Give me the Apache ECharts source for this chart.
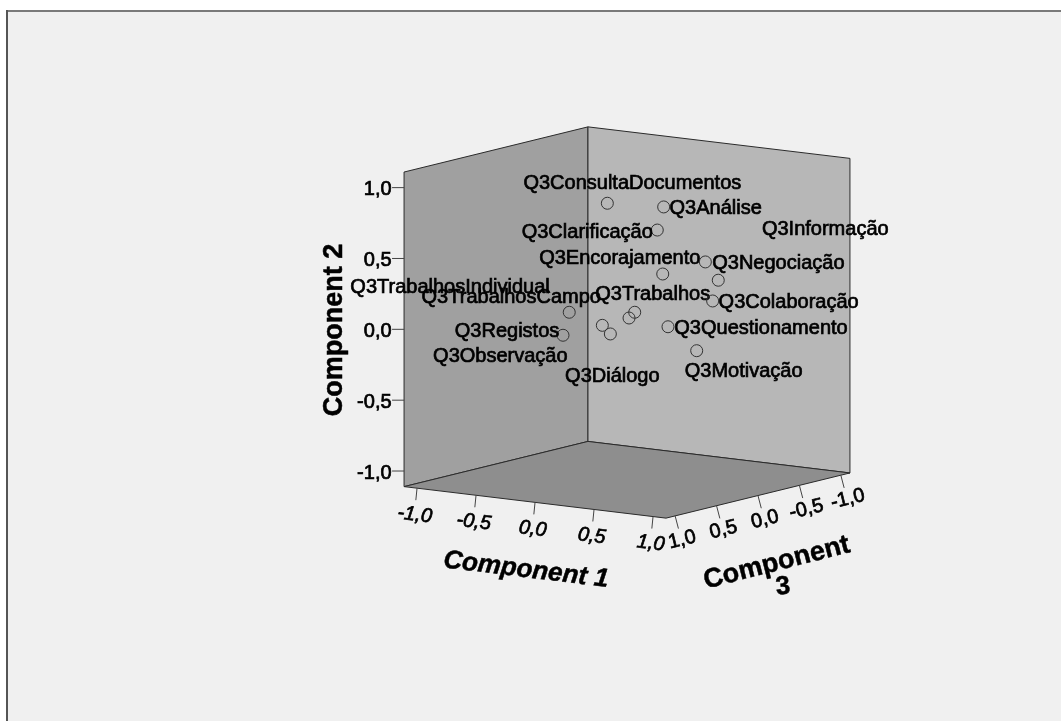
<!DOCTYPE html>
<html>
<head>
<meta charset="utf-8">
<style>
    html, body { margin: 0; padding: 0; background: #fff; }
    #chart { width: 1061px; height: 721px; }
</style>
<script src="https://cdn.jsdelivr.net/npm/echarts@6/dist/echarts.min.js"></script>
</head>
<body>
<div id="chart"></div>
<script>
// component loadings
var names = ["Q3ConsultaDocumentos", "Q3Análise", "Q3Clarificação", "Q3Informação", "Q3Encorajamento",
    "Q3Negociação", "Q3TrabalhosIndividual", "Q3TrabalhosCampo", "Q3Trabalhos", "Q3Colaboração",
    "Q3Registos", "Q3Questionamento", "Q3Observação", "Q3Motivação", "Q3Diálogo"];
var component1 = [0.044, 0.381, 0.397, 0.633, 0.373, 0.664, 0.298, 0.002, 0.276, 0.796, -0.121, 0.558, 0.142, 0.731, 0.210];
var component2 = [0.889, 0.868, 0.721, 0.333, 0.394, 0.494, 0.119, 0.173, 0.143, 0.246, -0.016, 0.069, 0.066, -0.097, 0.012];
var component3 = [0.3, 0.1, 0.2, -0.2, 0.1, 0, 0.4, 0.7, 0.3, 0.1, 0.6, 0.3, 0.5, 0.2, 0.5];
var tickValues = [-1, -0.5, 0, 0.5, 1];
var tickLabels = ["-1,0", "-0,5", "0,0", "0,5", "1,0"];

// label offset from its point, they do not sit next to the circles in the original
var labelShift = [[25, -20], [52, 2], [-70, 2], [107, -51], [-43, -16],
    [73, 2], [-179, -31], [-58, -15], [18, -18], [76, 2],
    [-56, -4], [93, 2], [-102, 31], [47, 21], [2, 43]];

// box half size on each component
var boxSize = 1.11;
var font = "Liberation Sans";

// fixed oblique view of the cube, the result is in the units of the hidden axes
function project(c1, c2, c3) {
    return [627 + 118 * c1 - 82.85 * c3, 322.5 + 14.2 * c1 - 141.7 * c2 + 20.35 * c3];
}

var walls = [
    { color: "#a0a0a0", corners: [[-1, -1, -1], [-1, 1, -1], [-1, 1, 1], [-1, -1, 1]] },
    { color: "#b7b7b7", corners: [[-1, -1, -1], [-1, 1, -1], [1, 1, -1], [1, -1, -1]] },
    { color: "#8e8e8e", corners: [[-1, -1, -1], [1, -1, -1], [1, -1, 1], [-1, -1, 1]] }
];

function wallPoint(corner) {
    return project(corner[0] * boxSize, corner[1] * boxSize, corner[2] * boxSize);
}

// walls and floor of the cube
function renderWall(params, api) {
    var wall = walls[params.dataIndex];
    var points = wall.corners.map(function(corner) {
        return api.coord(wallPoint(corner));
    });
    return {
        type: "polygon",
        shape: { points: points },
        style: { fill: wall.color, stroke: "#2b2b2b", lineWidth: 1 }
    };
}

// one axis of the cube: ticks and their rotated labels
function axisSeries(pointOf, tickDx, tickDy, labelDx, labelDy, rotation, italic, align) {
    return {
        type: "custom",
        coordinateSystem: "cartesian2d",
        silent: true,
        z: 3,
        data: tickValues,
        encode: { x: 0 },
        renderItem: function(params, api) {
            var i = params.dataIndex;
            var p = api.coord(pointOf(tickValues[i]));
            return {
                type: "group",
                children: [
                    {
                        type: "line",
                        shape: { x1: p[0], y1: p[1], x2: p[0] + tickDx, y2: p[1] + tickDy },
                        style: { stroke: "#444", lineWidth: 1 }
                    },
                    {
                        type: "text",
                        x: p[0] + labelDx,
                        y: p[1] + labelDy,
                        rotation: rotation,
                        style: {
                            text: tickLabels[i],
                            fill: "#000",
                            font: (italic ? "italic " : "") + "20px '" + font + "'",
                            textAlign: align,
                            textVerticalAlign: "middle",
                            stroke: "#000",
                            lineWidth: 0.7
                        }
                    }
                ]
            };
        }
    };
}

function axisTitle(text, x, y, rotation, size, italic) {
    return {
        type: "text",
        x: x,
        y: y,
        rotation: rotation,
        silent: true,
        style: {
            text: text,
            fill: "#000",
            font: (italic ? "italic " : "") + "bold " + size + "px '" + font + "'",
            textAlign: "center",
            textVerticalAlign: "middle",
            stroke: "#000",
            lineWidth: 0.5
        }
    };
}

// circles and their names
function renderPoint(params, api) {
    var i = params.dataIndex;
    var p = api.coord([api.value(0), api.value(1)]);
    return {
        type: "group",
        children: [
            {
                type: "circle",
                shape: { cx: p[0], cy: p[1], r: 6 },
                style: { fill: "none", stroke: "#333", lineWidth: 1 }
            },
            {
                type: "text",
                x: p[0] + labelShift[i][0],
                y: p[1] + labelShift[i][1],
                style: {
                    text: names[i],
                    fill: "#000",
                    font: "20px '" + font + "'",
                    textAlign: "center",
                    textVerticalAlign: "middle",
                    stroke: "#000",
                    lineWidth: 0.7
                }
            }
        ]
    };
}

var pointData = names.map(function(name, i) {
    return project(component1[i], component2[i], component3[i]);
});

var myChart = echarts.init(document.getElementById("chart"), null, { renderer: "canvas" });

var option = {
    animation: false,
    backgroundColor: "#f0f0f0",
    grid: { left: 0, right: 0, top: 0, bottom: 0 },
    xAxis: { type: "value", min: 0, max: 1061, show: false },
    yAxis: { type: "value", min: 0, max: 721, inverse: true, show: false },
    // frame of the plot area and axis titles
    graphic: [
        { type: "rect", shape: { x: 0, y: 0, width: 1061, height: 10 }, style: { fill: "#fff" }, silent: true },
        { type: "rect", shape: { x: 0, y: 0, width: 6, height: 721 }, style: { fill: "#fff" }, silent: true },
        { type: "line", shape: { x1: 6, y1: 11, x2: 1061, y2: 11 }, style: { stroke: "#7a7a7a", lineWidth: 2 }, silent: true },
        { type: "line", shape: { x1: 7, y1: 10, x2: 7, y2: 721 }, style: { stroke: "#555", lineWidth: 2 }, silent: true },
        axisTitle("Component 2", 335, 330, Math.PI / 2, 27, false),
        axisTitle("Component 1", 526, 570, -0.12, 26, true),
        axisTitle("Component", 776.7, 563, 0.25, 27, false),
        axisTitle("3", 783, 587, 0.1, 26, false)
    ],
    series: [
        {
            type: "custom",
            coordinateSystem: "cartesian2d",
            silent: true,
            z: 1,
            data: walls.map(function(w, i) { return [i]; }),
            encode: { x: 0 },
            renderItem: renderWall
        },
        axisSeries(function(v) { return project(-boxSize, v, boxSize); }, -12, 0, -12.5, 2, 0, false, "right"),
        axisSeries(function(v) { return project(v, -boxSize, boxSize); }, -1.2, 12, -2.3, 26.7, -0.12, true, "center"),
        axisSeries(function(v) { return project(boxSize, -boxSize, v); }, 3.3, 12.7, 7, 24, 0.24, false, "center"),
        {
            type: "custom",
            coordinateSystem: "cartesian2d",
            silent: true,
            z: 5,
            data: pointData,
            encode: { x: 0, y: 1 },
            renderItem: renderPoint
        }
    ]
};

myChart.setOption(option);
window.addEventListener("resize", function() {
    myChart.resize();
});
</script>
</body>
</html>
